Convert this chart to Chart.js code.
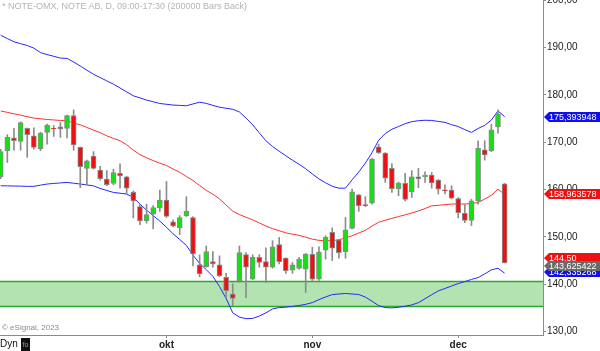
<!DOCTYPE html>
<html>
<head>
<meta charset="utf-8">
<script src="https://cdn.jsdelivr.net/npm/chart.js@4.4.0/dist/chart.umd.min.js"></script>
<style>
  html, body { margin: 0; padding: 0; background: #ffffff; }
  #wrap { position: relative; width: 600px; height: 351px; overflow: hidden; font-family: "Liberation Sans", Arial, sans-serif; }
  #c { position: absolute; left: 0; top: 0; }
  .txt { position: absolute; white-space: nowrap; }
  #title { left: 2px; top: 1px; font-size: 9px; color: #b4b4b4; }
  #copy { left: 2px; top: 323px; font-size: 8px; color: #8a8a8a; }
  #dyn { left: 0px; top: 338px; font-size: 10px; color: #111; }
  #icon { position: absolute; left: 21px; top: 338px; width: 9px; height: 13px; background: #111; color: #999; font-size: 7px; line-height: 13px; text-align: center; }
</style>
</head>
<body>
<div id="wrap">
  <canvas id="c" width="600" height="351"></canvas>
  <div id="title" class="txt">* NOTE-OMX, NOTE AB, D, 09:00-17:30 (200000 Bars Back)</div>
  <div id="copy" class="txt">© eSignal, 2023</div>
  <div id="dyn" class="txt">Dyn</div>
  <div id="icon">fo</div>
</div>
<script>
// ---- categories (trading days) ----
const dates = [
  '2023-08-28','2023-08-29','2023-08-30','2023-08-31',
  '2023-09-01','2023-09-04','2023-09-05','2023-09-06','2023-09-07','2023-09-08',
  '2023-09-11','2023-09-12','2023-09-13','2023-09-14','2023-09-15',
  '2023-09-18','2023-09-19','2023-09-20','2023-09-21','2023-09-22',
  '2023-09-25','2023-09-26','2023-09-27','2023-09-28','2023-09-29',
  '2023-10-02','2023-10-03','2023-10-04','2023-10-05','2023-10-06',
  '2023-10-09','2023-10-10','2023-10-11','2023-10-12','2023-10-13',
  '2023-10-16','2023-10-17','2023-10-18','2023-10-19','2023-10-20',
  '2023-10-23','2023-10-24','2023-10-25','2023-10-26','2023-10-27',
  '2023-10-30','2023-10-31',
  '2023-11-01','2023-11-02','2023-11-03',
  '2023-11-06','2023-11-07','2023-11-08','2023-11-09','2023-11-10',
  '2023-11-13','2023-11-14','2023-11-15','2023-11-16','2023-11-17',
  '2023-11-20','2023-11-21','2023-11-22','2023-11-23','2023-11-24',
  '2023-11-27','2023-11-28','2023-11-29','2023-11-30',
  '2023-12-01','2023-12-04','2023-12-05','2023-12-06','2023-12-07','2023-12-08',
  '2023-12-11','2023-12-12'
];

// ---- OHLC ----
const openP = [
  162.7,168.2,170.9,170.15,172.9,171.35,168.6,172.05,172.9,173.25,
  172.9,175.6,168.9,164.45,167.07,164.1,162.2,161.3,163.4,162.7,
  159.4,156.4,153.4,154.8,156.1,157.8,153.2,151.9,154.5,154.1,
  144.1,143.7,144.8,144.1,141.45,137.95,140.76,146.25,141.1,145.7,
  144.8,143.6,148.4,145.55,143.0,143.35,143.2,146.3,141.1,147.2,
  150.95,149.4,146.9,151.8,158.9,156.8,157.1,169.0,167.7,164.45,
  160.2,161.3,159.5,162.7,162.7,163.05,162.0,159.95,159.9,158.1,
  155.0,153.5,157.6,168.4,168.2,173.2,161.2
];
const highP = [
  168.5,171.6,172.9,174.3,173.0,173.0,172.1,173.8,173.5,174.15,
  175.7,176.8,169.0,166.2,168.0,164.9,164.0,164.3,165.4,162.8,
  159.7,156.9,156.9,156.6,159.9,161.7,153.6,154.5,158.5,154.3,
  146.2,148.1,146.9,146.0,142.3,140.1,148.1,146.7,146.25,146.25,
  147.7,149.2,149.9,145.6,144.6,145.7,146.5,147.8,147.9,150.25,
  151.9,149.5,154.1,160.1,159.0,158.5,166.6,169.6,167.8,165.5,
  161.6,163.4,164.0,164.5,163.75,163.6,162.1,161.0,160.8,158.3,
  156.8,157.95,170.3,170.3,173.8,176.8,161.3
];
const lowP = [
  162.3,165.7,168.3,168.3,166.8,168.5,168.2,169.6,171.2,171.0,
  170.9,168.3,160.4,161.0,164.3,162.0,160.8,161.0,160.3,159.2,
  154.0,152.6,152.9,151.7,155.4,154.1,152.1,150.5,154.3,143.9,
  141.6,143.6,143.6,141.6,137.2,135.5,140.4,137.2,141.0,143.6,
  140.4,143.4,144.3,142.3,142.3,143.2,138.3,140.6,140.8,145.3,
  145.0,145.5,145.5,151.7,155.4,156.4,156.9,167.6,161.5,159.4,
  158.7,157.6,158.3,160.4,161.5,160.3,159.05,159.05,158.0,154.0,
  153.0,152.4,156.9,166.2,168.0,171.9,144.5
];
const closeP = [
  168.0,171.0,170.3,174.15,171.6,168.9,171.9,173.6,172.8,172.8,
  175.6,169.4,164.8,166.07,164.45,162.3,161.0,163.6,162.85,160.3,
  157.6,153.4,154.7,156.2,157.8,154.3,152.3,154.1,155.4,146.4,
  142.2,146.9,144.3,141.8,138.65,137.0,146.7,143.6,145.7,144.6,
  143.6,147.9,144.8,142.9,144.1,145.3,146.4,141.1,146.8,149.9,
  147.6,146.7,151.5,159.5,156.6,156.6,166.4,167.8,162.4,160.2,
  161.3,157.9,162.7,162.3,163.05,161.4,160.1,159.7,158.2,155.1,
  153.5,157.6,168.7,167.3,172.6,176.0,144.5
];

// ---- Bollinger band values ----
const bbUpper = [
  192.57,191.86,191.18,190.78,190.40,189.85,188.90,188.48,188.12,187.74,
  187.68,186.92,186.07,185.19,184.32,183.63,182.93,182.24,181.43,180.61,
  179.79,179.34,178.88,178.52,178.16,177.99,177.83,177.76,177.68,178.06,
  178.44,178.18,177.76,177.38,177.15,176.94,176.37,175.08,173.67,171.96,
  170.29,169.09,168.08,167.13,166.20,165.32,164.39,163.29,162.24,161.41,
  160.69,160.29,160.29,162.05,163.69,165.59,167.76,170.42,171.81,172.72,
  173.29,173.90,174.32,174.53,174.62,174.58,174.37,174.18,173.69,173.29,
  172.64,172.05,172.89,173.54,174.66,176.60,175.39
];
const bbMiddle = [
  176.58,176.29,175.99,175.69,175.38,175.08,174.94,174.79,174.68,174.58,
  174.49,174.07,173.65,173.10,172.53,172.02,171.33,170.80,170.29,169.45,
  168.33,167.36,166.71,166.10,165.57,165.06,164.34,163.65,162.74,161.90,
  160.86,159.83,159.01,158.04,156.73,155.42,154.72,154.15,153.59,152.95,
  152.30,151.75,151.31,150.86,150.57,150.32,149.94,149.53,149.28,149.20,
  149.20,149.41,149.77,150.25,150.82,151.39,152.28,153.10,153.52,153.92,
  154.30,154.66,155.04,155.48,155.99,156.56,156.67,156.81,156.94,156.94,
  156.94,157.05,157.26,157.99,158.78,160.08,158.96
];
const bbLower = [
  160.80,160.78,160.74,160.72,160.67,160.67,160.93,161.16,161.29,161.39,
  161.50,161.33,161.16,160.97,160.78,160.23,159.81,159.39,159.22,159.05,
  158.33,156.94,155.65,154.49,153.33,152.05,150.65,149.45,148.23,146.14,
  144.41,143.10,141.69,139.53,136.98,133.97,133.08,132.74,132.80,133.29,
  133.97,134.81,135.08,135.19,135.34,135.53,135.78,136.14,136.77,137.32,
  137.83,137.95,138.06,137.95,137.85,137.30,136.43,135.51,135.08,135.02,
  135.15,135.38,135.65,136.12,136.96,137.80,138.61,139.11,139.64,140.15,
  140.57,141.03,141.41,142.19,143.04,143.40,142.34
];

// ---- support zone ----
const zoneHigh = 140.6;
const zoneLow = 135.3;

// ---- axis ticks ----
const yTickValues = [130, 140, 150, 160, 170, 180, 190, 200];
const monthLabels = ['okt', 'nov', 'dec'];
const monthKeys = ['2023-10', '2023-11', '2023-12'];

// ---- value tags on the price axis ----
const tagValues = [175.393948, 158.963578, 144.50, 142.335268, 143.625422];
const tagTexts = ['175,393948', '158,963578', '144,50', '142,335268', '143,625422'];
const tagColors = ['#1010ee', '#ee1111', '#ee1111', '#1010ee', '#6a6a6a'];

const monthIdx = monthKeys.map(k => dates.findIndex(d => d.startsWith(k)));

const bodyData = dates.map((d, i) => ({ x: i, y: [openP[i], closeP[i]] }));
const wickData = dates.map((d, i) => ({ x: i, y: [lowP[i], highP[i]] }));
const bodyColors = dates.map((d, i) => closeP[i] >= openP[i] ? '#14e014' : '#ee1111');
const toXY = arr => arr.map((v, i) => ({ x: i, y: v }));

const zonePlugin = {
  id: 'zone',
  beforeDatasetsDraw(chart) {
    const { ctx, chartArea, scales } = chart;
    const yt = scales.y.getPixelForValue(zoneHigh);
    const yb = scales.y.getPixelForValue(zoneLow);
    ctx.save();
    ctx.fillStyle = '#b3e3b1';
    ctx.fillRect(chartArea.left, yt, chartArea.right - chartArea.left, yb - yt);
    ctx.strokeStyle = '#28a828';
    ctx.lineWidth = 1.5;
    ctx.beginPath();
    ctx.moveTo(chartArea.left, yt); ctx.lineTo(chartArea.right, yt);
    ctx.moveTo(chartArea.left, yb); ctx.lineTo(chartArea.right, yb);
    ctx.stroke();
    ctx.restore();
  }
};

const tagPlugin = {
  id: 'tags',
  afterDraw(chart) {
    const { ctx, chartArea, scales } = chart;
    const nudge = [0, 0, -5, -1.5, -1.5];
    const x0 = chartArea.right + 1;
    ctx.save();
    ctx.font = '9px "Liberation Sans", Arial, sans-serif';
    ctx.textBaseline = 'middle';
    ctx.textAlign = 'left';
    tagValues.forEach((v, i) => {
      const y = Math.round(scales.y.getPixelForValue(v) + nudge[i]);
      ctx.fillStyle = tagColors[i];
      ctx.beginPath();
      ctx.moveTo(x0, y);
      ctx.lineTo(x0 + 5, y - 5);
      ctx.lineTo(600, y - 5);
      ctx.lineTo(600, y + 5);
      ctx.lineTo(x0 + 5, y + 5);
      ctx.closePath();
      ctx.fill();
      ctx.fillStyle = '#ffffff';
      ctx.fillText(tagTexts[i], x0 + 5, y + 0.5);
    });
    ctx.restore();
  }
};

new Chart(document.getElementById('c'), {
  type: 'bar',
  data: {
    datasets: [
      {
        label: 'body', data: bodyData, order: 1, grouped: false,
        backgroundColor: bodyColors, borderColor: '#8a8a8a', borderWidth: 1,
        borderSkipped: false, barThickness: 5
      },
      {
        label: 'wick', data: wickData, order: 2, grouped: false,
        backgroundColor: '#8c8c8c', borderWidth: 0, barThickness: 1
      },
      {
        type: 'line', label: 'upper', data: toXY(bbUpper), order: 3,
        borderColor: '#2626ff', borderWidth: 1, pointRadius: 0, tension: 0
      },
      {
        type: 'line', label: 'middle', data: toXY(bbMiddle), order: 3,
        borderColor: '#ff3030', borderWidth: 1, pointRadius: 0, tension: 0
      },
      {
        type: 'line', label: 'lower', data: toXY(bbLower), order: 3,
        borderColor: '#2626ff', borderWidth: 1, pointRadius: 0, tension: 0
      }
    ]
  },
  options: {
    responsive: false,
    animation: false,
    devicePixelRatio: 1,
    events: [],
    layout: { padding: 0 },
    plugins: { legend: { display: false }, tooltip: { enabled: false }, title: { display: false } },
    scales: {
      x: {
        type: 'linear',
        offset: false,
        min: -0.106,
        max: 81.79,
        afterBuildTicks(scale) { scale.ticks = monthIdx.map(v => ({ value: v })); },
        afterFit(scale) { scale.height = 16; scale.paddingLeft = 0; scale.paddingRight = 0; },
        grid: { display: true, drawOnChartArea: false, offset: false, tickLength: 3, color: '#8a8a8a' },
        border: { display: true, color: '#8a8a8a', width: 1 },
        ticks: {
          autoSkip: false, maxRotation: 0, padding: 1,
          color: '#222', font: { family: '"Liberation Sans", Arial, sans-serif', size: 10, weight: 'bold' },
          callback: (v, i) => monthLabels[i]
        }
      },
      y: {
        type: 'linear',
        position: 'right',
        min: 129.3,
        max: 200,
        afterBuildTicks(scale) { scale.ticks = yTickValues.map(v => ({ value: v })); },
        afterFit(scale) { scale.width = 57; scale.paddingTop = 0; scale.paddingBottom = 0; },
        grid: { display: true, drawOnChartArea: false, tickLength: 3, color: '#8a8a8a' },
        border: { display: true, color: '#8a8a8a', width: 1 },
        ticks: {
          padding: 1, color: '#222',
          font: { family: '"Liberation Sans", Arial, sans-serif', size: 10 },
          callback: v => v.toFixed(2).replace('.', ',')
        }
      }
    }
  },
  plugins: [zonePlugin, tagPlugin]
});
</script>
</body>
</html>
